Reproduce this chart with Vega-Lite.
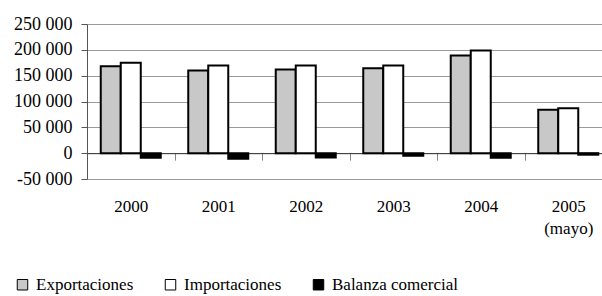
{
  "$schema": "https://vega.github.io/schema/vega-lite/v6.json",
  "width": 515,
  "height": 155,
  "autosize": {"type": "none"},
  "padding": {"left": 87, "top": 24, "right": 0, "bottom": 117},
  "config": {
    "locale": {"number": {"decimal": ",", "thousands": " ", "grouping": [3], "currency": ["", ""], "minus": "-"}},
    "view": {"stroke": null},
    "font": "'Liberation Serif', 'Times New Roman', 'DejaVu Serif', serif"
  },
  "data": {
    "values": [
      {"anio": "2000", "serie": "Exportaciones", "valor": 168400},
      {"anio": "2000", "serie": "Importaciones", "valor": 175000},
      {"anio": "2000", "serie": "Balanza comercial", "valor": -8900},
      {"anio": "2001", "serie": "Exportaciones", "valor": 160000},
      {"anio": "2001", "serie": "Importaciones", "valor": 169700},
      {"anio": "2001", "serie": "Balanza comercial", "valor": -10900},
      {"anio": "2002", "serie": "Exportaciones", "valor": 162000},
      {"anio": "2002", "serie": "Importaciones", "valor": 169700},
      {"anio": "2002", "serie": "Balanza comercial", "valor": -8500},
      {"anio": "2003", "serie": "Exportaciones", "valor": 164500},
      {"anio": "2003", "serie": "Importaciones", "valor": 169700},
      {"anio": "2003", "serie": "Balanza comercial", "valor": -5000},
      {"anio": "2004", "serie": "Exportaciones", "valor": 189000},
      {"anio": "2004", "serie": "Importaciones", "valor": 198800},
      {"anio": "2004", "serie": "Balanza comercial", "valor": -9000},
      {"anio": "2005 (mayo)", "serie": "Exportaciones", "valor": 84000},
      {"anio": "2005 (mayo)", "serie": "Importaciones", "valor": 87100},
      {"anio": "2005 (mayo)", "serie": "Balanza comercial", "valor": -3000}
    ]
  },
  "mark": {"type": "bar", "stroke": "black", "strokeWidth": 2},
  "encoding": {
    "x": {
      "field": "anio",
      "type": "nominal",
      "sort": null,
      "scale": {"range": [0, 525], "paddingInner": 0, "paddingOuter": 0},
      "axis": {
        "title": null,
        "orient": "bottom",
        "offset": -25.83,
        "tickBand": "extent",
        "domainColor": "#333333",
        "domainWidth": 1,
        "tickColor": "#888888",
        "tickSize": 7,
        "labelFont": "'Liberation Serif', 'Times New Roman', 'DejaVu Serif', serif",
        "labelFontSize": 17,
        "labelColor": "black",
        "labelPadding": 38,
        "labelAngle": 0,
        "labelBaseline": "top",
        "labelExpr": "split(datum.label, ' ')",
        "labelLineHeight": 22
      }
    },
    "xOffset": {
      "field": "serie",
      "sort": ["Exportaciones", "Importaciones", "Balanza comercial"],
      "scale": {"paddingInner": 0, "paddingOuter": 0.6875}
    },
    "y": {
      "field": "valor",
      "type": "quantitative",
      "scale": {"domain": [-50000, 250000], "nice": false},
      "axis": {
        "title": null,
        "values": [-50000, 0, 50000, 100000, 150000, 200000, 250000],
        "format": ",d",
        "domainColor": "#555555",
        "tickColor": "#555555",
        "tickSize": 6,
        "gridColor": "#999999",
        "labelFont": "'Liberation Serif', 'Times New Roman', 'DejaVu Serif', serif",
        "labelFontSize": 18,
        "labelColor": "black",
        "labelPadding": 9
      }
    },
    "color": {
      "field": "serie",
      "type": "nominal",
      "sort": ["Exportaciones", "Importaciones", "Balanza comercial"],
      "scale": {"domain": ["Exportaciones", "Importaciones", "Balanza comercial"], "range": ["#c8c8c8", "#ffffff", "#000000"]},
      "legend": {
        "title": null,
        "orient": "none",
        "legendX": -73,
        "legendY": 252,
        "direction": "horizontal",
        "symbolType": "square",
        "symbolSize": 110,
        "symbolStrokeColor": "black",
        "symbolStrokeWidth": 1,
        "labelFont": "'Liberation Serif', 'Times New Roman', 'DejaVu Serif', serif",
        "labelFontSize": 17,
        "labelColor": "black",
        "labelOffset": 5,
        "columnPadding": 28
      }
    }
  }
}
